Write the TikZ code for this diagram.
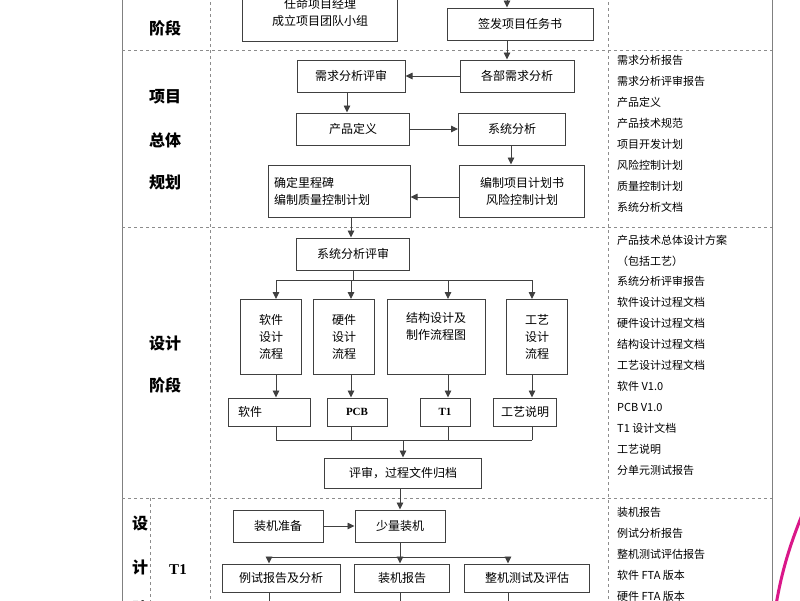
\documentclass[tikz,border=0pt]{standalone}
\usepackage{fontspec}
\setmainfont{Liberation Serif}
\newfontfamily\cjk{Noto Sans CJK SC}
\usetikzlibrary{arrows.meta,positioning}
\tikzset{
  box/.style={draw=black!75,line width=1pt,inner sep=2pt,font=\cjk\fontsize{12}{17}\selectfont,align=center},
  flow/.style={draw=black!75,line width=0.9pt,-{Triangle[length=7pt,width=6.5pt]}},
  link/.style={draw=black!75,line width=0.9pt},
  sep/.style={draw=black!45,dashed,line width=0.9pt},
  stage/.style={font=\cjk\bfseries\fontsize{16}{18}\selectfont},
  doc/.style={anchor=west,font=\cjk\fontsize{11}{12}\selectfont,inner sep=0pt}
}
\begin{document}
\begin{tikzpicture}[x=1pt,y=-1pt]
    \useasboundingbox (0,0) rectangle (800,600);
    \clip (0,0) rectangle (800,600);
    \fill[white] (0,0) rectangle (800,600);
    % frame and separators
    \draw[black!50,line width=1pt] (122,-10) -- (122,610);
    \draw[black!50,line width=1pt] (772,-10) -- (772,610);
    \draw[sep] (210,-10) -- (210,610);
    \draw[sep] (608,-10) -- (608,610);
    \draw[sep] (150,498) -- (150,610);
    \foreach \y in {50,227,498} \draw[sep] (122,\y) -- (772,\y);
    % stage labels
    \node[stage] at (165,28) {阶段};
    \node[stage] at (165,97) {项目};
    \node[stage] at (165,140) {总体};
    \node[stage] at (165,182) {规划};
    \node[stage] at (165,343) {设计};
    \node[stage] at (165,385) {阶段};
    \node[stage] at (140,523) {设};
    \node[stage] at (140,567) {计};
    \node[stage] at (140,608) {阶};
    \node[stage,font=\bfseries\fontsize{15}{18}\selectfont] at (178,570) {T1};
    % project start
    \node[box,minimum width=155,minimum height=58] (team) at (320,12) {任命项目经理\\成立项目团队小组};
    \node[box,minimum width=146,minimum height=32] (task) at (520,24) {签发项目任务书};
    \coordinate (tasktop) at (507,-5);
    % overall planning
    \node[box,minimum width=108,minimum height=32] (reqrev) at (351,76) {需求分析评审};
    \node[box,minimum width=114,minimum height=32] (reqana) at (517,76) {各部需求分析};
    \node[box,minimum width=113,minimum height=32] (prod) at (353,129) {产品定义};
    \node[box,minimum width=107,minimum height=32] (sysana) at (512,129) {系统分析};
    \node[box,minimum width=142,minimum height=52,align=left,text width=130] (mile) at (339,191) {确定里程碑\\编制质量控制计划};
    \node[box,minimum width=125,minimum height=52] (plan) at (522,191) {编制项目计划书\\风险控制计划};
    \draw[flow] (tasktop) -- (tasktop |- task.north);
    \draw[flow] (task.south -| tasktop) -- (reqana.north -| tasktop);
    \draw[flow] (reqana) -- (reqrev);
    \draw[flow] (reqrev.south -| 347,0) -- (prod.north -| 347,0);
    \draw[flow] (prod) -- (sysana);
    \draw[flow] (sysana.south -| 511,0) -- (plan.north -| 511,0);
    \draw[flow] (plan.west |- 0,197) -- (mile.east |- 0,197);
    % design stage
    \node[box,minimum width=113,minimum height=32] (sysrev) at (353,254) {系统分析评审};
    \draw[flow] (mile.south -| 351,0) -- (sysrev.north -| 351,0);
    \node[box,minimum width=61,minimum height=75] (swflow) at (271,337) {软件\\设计\\流程};
    \node[box,minimum width=61,minimum height=75] (hwflow) at (344,337) {硬件\\设计\\流程};
    \node[box,minimum width=98,minimum height=75] (stflow) at (436,337) {结构设计及\\制作流程图\\ \strut};
    \node[box,minimum width=61,minimum height=75] (prflow) at (537,337) {工艺\\设计\\流程};
    \node[box,minimum width=82,minimum height=28,align=left,text width=62] (sw) at (269,412) {软件};
    \node[box,minimum width=60,minimum height=28,font=\bfseries\fontsize{11}{13}\selectfont] (pcb) at (357,412) {PCB};
    \node[box,minimum width=50,minimum height=28,font=\bfseries\fontsize{11}{13}\selectfont] (tone) at (445,412) {T1};
    \node[box,minimum width=63,minimum height=28] (proc) at (525,412) {工艺说明};
    \node[box,minimum width=157,minimum height=30] (arch) at (403,473) {评审，过程文件归档};
    \coordinate (busA) at (0,280);
    \coordinate (busB) at (0,440);
    \draw[link] (sysrev) -- (sysrev |- busA);
    \draw[link] (276,280) -- (532,280);
    \foreach \x/\n in {276/swflow,351/hwflow,448/stflow,532/prflow}
        \draw[flow] (\x,280) -- (\n.north -| \x,0);
    \foreach \x/\a/\b in {276/swflow/sw,351/hwflow/pcb,448/stflow/tone,532/prflow/proc}{
        \draw[flow] (\a.south -| \x,0) -- (\b.north -| \x,0);
        \draw[link] (\b.south -| \x,0) -- (\x,440);
    }
    \draw[link] (276,440) -- (532,440);
    \draw[flow] (arch |- busB) -- (arch);
    % T1 stage
    \node[box,minimum width=90,minimum height=32] (prep) at (278,526) {装机准备};
    \node[box,minimum width=90,minimum height=32] (build) at (400,526) {少量装机};
    \node[box,minimum width=118,minimum height=28] (test) at (281,578) {例试报告及分析};
    \node[box,minimum width=95,minimum height=28] (rep) at (402,578) {装机报告};
    \node[box,minimum width=125,minimum height=28] (eval) at (527,578) {整机测试及评估};
    \draw[flow] (arch.south -| build) -- (build);
    \draw[flow] (prep) -- (build);
    \draw[link] (build) -- (build |- 0,557);
    \draw[link] (269,557) -- (508,557);
    \foreach \x/\n in {269/test,400/rep,508/eval}{
        \draw[flow] (\x,557) -- (\n.north -| \x,0);
        \draw[link] (\n.south -| \x,0) -- (\x,610);
    }
    % documents
    \foreach \t [count=\i from 0] in {需求分析报告,需求分析评审报告,产品定义,产品技术规范,项目开发计划,风险控制计划,质量控制计划,系统分析文档}
        \node[doc] at (617,60+21*\i) {\t};
    \foreach \t [count=\i from 0] in {产品技术总体设计方案,（包括工艺）,系统分析评审报告,软件设计过程文档,硬件设计过程文档,结构设计过程文档,工艺设计过程文档,软件 V1.0,PCB V1.0,T1 设计文档,工艺说明,分单元测试报告}
        \node[doc] at (617,240+20.9*\i) {\t};
    \foreach \t [count=\i from 0] in {装机报告,例试分析报告,整机测试评估报告,软件 FTA 版本,硬件 FTA 版本}
        \node[doc] at (617,512+21*\i) {\t};
    % decoration
    \draw[magenta!80!violet,line width=3pt] (802,515) .. controls (790,545) and (782,570) .. (776,605);
\end{tikzpicture}
\end{document}
